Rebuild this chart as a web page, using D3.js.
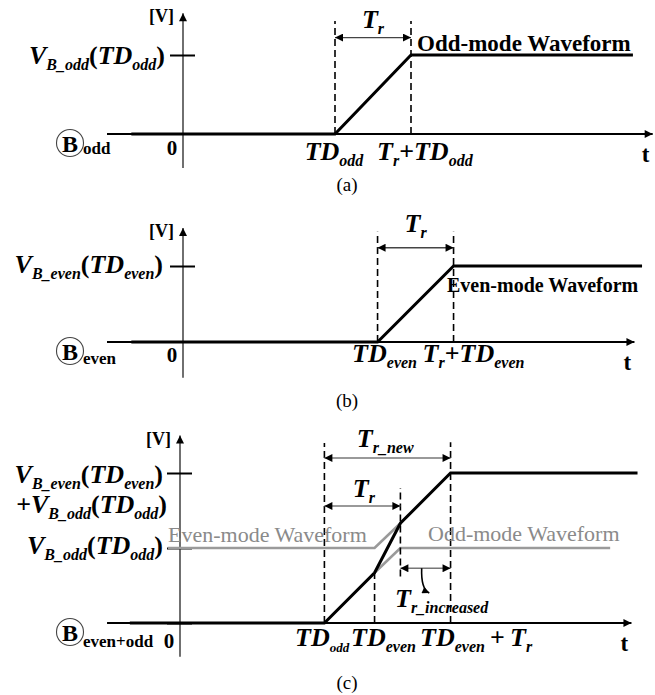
<!DOCTYPE html>
<html><head><meta charset="utf-8">
<script src="https://cdn.jsdelivr.net/npm/d3@7"></script>
<style>
html,body{margin:0;padding:0;background:#fff;}
svg{display:block;font-family:"Liberation Serif","Times New Roman",serif;}
</style></head><body>
<svg id="fig" width="655" height="695"></svg>
<script>
// Time is in arbitrary units, voltage normalised to one mode's step height.

// Panel (a): odd-mode waveform, [t, V]
const oddWave   = [[-3.4, 0], [10, 0], [15, 1], [29.6, 1]];
const oddDashes = [[10, 0, 1.43], [15, 0, 1.43]];          // [t, v0, v1]
const oddSpans  = [[10, 15, 1.22]];                          // [t0, t1, v]

// Panel (b): even-mode waveform
const evenWave   = [[-3.4, 0], [12.8, 0], [17.8, 1], [30.2, 1]];
const evenDashes = [[12.8, 0, 1.45], [17.8, 0, 1.45]];
const evenSpans  = [[12.8, 17.8, 1.24]];

// Panel (c): superposition of both modes
const sumWave     = [[-3.3, 0], [9.5, 0], [12.8, 0.67], [14.5, 1.33], [17.8, 2], [30.1, 2]];
const evenShifted = [[-0.8, 1], [12.8, 1], [14.5, 1.33]];
const oddTail     = [[12.8, 0.67], [14.5, 1], [28.3, 1]];
const sumDashes   = [[9.5, 0, 2.4], [12.8, 0, 0.67], [14.5, 0.62, 1.8], [17.8, 0, 2.41]];
const sumSpans    = [[9.5, 17.8, 2.2], [9.5, 14.5, 1.56], [14.5, 17.8, 0.73]];

// Text pieces: [string, style, optional size]  m = main italic, s = subscript, p = upright
const labelVOdd     = [["V","m"],["B_odd","s"],["(","p"],["TD","m"],["odd","s"],[")","p"]];
const labelVEven    = [["V","m"],["B_even","s"],["(","p"],["TD","m"],["even","s"],[")","p"]];
const labelVOddPlus = [["+","p"],["V","m"],["B_odd","s"],["(","p"],["TD","m"],["odd","s"],[")","p"]];
const labelTDodd    = [["TD","m"],["odd","s"]];
const labelTDoddTight = [["TD","m"],["odd","s",13]];
const labelTDeven   = [["TD","m"],["even","s"]];
const labelTrTDodd  = [["T","m"],["r","s"],["+","p"],["TD","m"],["odd","s"]];
const labelTrTDeven = [["T","m"],["r","s"],["+","p"],["TD","m"],["even","s"]];
const labelTDevenTr = [["TD","m"],["even","s"],["\u2009+\u2009","p"],["T","m"],["r","s"]];
const labelTr       = [["T","m"],["r","s"]];
const labelTrNew    = [["T","m"],["r_new","s"]];
const labelTrInc    = [["T","m"],["r_increased","s"]];

const svg = d3.select("#fig");
const defs = svg.append("defs");
function marker(id, color, w, h) {
  defs.append("marker").attr("id", id)
    .attr("viewBox", "0 0 10 10").attr("refX", 10).attr("refY", 5)
    .attr("markerUnits", "userSpaceOnUse")
    .attr("markerWidth", w).attr("markerHeight", h)
    .attr("orient", "auto-start-reverse")
    .append("path").attr("d", "M0,0L10,5L0,10Z").attr("fill", color);
}
marker("axisHead", "#000", 10, 8);
marker("spanHead", "#000", 10, 8);
marker("curveHead", "#000", 8, 7);

const STY = {
  m: {size: 26, italic: true,  bold: true},
  s: {size: 16, italic: true,  bold: true, sub: true},
  p: {size: 26, italic: false, bold: true}
};
function rich(g, x, y, parts, anchor) {
  const t = g.append("text").attr("x", x).attr("y", y)
    .attr("text-anchor", anchor || "start").style("white-space", "pre");
  let down = false;
  parts.forEach(([s, k, size]) => {
    const st = STY[k];
    const sp = t.append("tspan").text(s)
      .attr("font-size", size || st.size)
      .attr("font-style", st.italic ? "italic" : "normal")
      .attr("font-weight", st.bold ? "bold" : "normal");
    if (st.sub && !down) { sp.attr("dy", 6); down = true; }
    else if (!st.sub && down) { sp.attr("dy", -6); down = false; }
  });
  return t;
}

function panel(o) {
  const g = svg.append("g");
  const pxT = 15.2;
  const x = d3.scaleLinear().domain([0, 30]).range([o.x0, o.x0 + 30 * pxT]);
  const y = d3.scaleLinear().domain([0, 1]).range([o.y0, o.y0 - o.pxV]);
  const line = d3.line().x(d => x(d[0])).y(d => y(d[1]));

  // vertical voltage axis with arrow
  g.append("line").attr("x1", x(0)).attr("x2", x(0))
    .attr("y1", y(o.vAxis[0])).attr("y2", y(o.vAxis[1]))
    .attr("stroke", "#222").attr("stroke-width", 1.3).attr("marker-end", "url(#axisHead)");
  // tick marks crossing the voltage axis
  const ax = g.append("g").attr("transform", `translate(${x(0)},0)`)
    .call(d3.axisLeft(y).tickValues(o.ticks).tickFormat("").tickSizeOuter(0));
  ax.select(".domain").remove();
  ax.selectAll(".tick line").attr("x1", -13).attr("x2", 12)
    .attr("stroke", "#000").attr("stroke-width", 2);

  // time axis with arrow
  g.append("line").attr("x1", x(o.tAxis[0])).attr("x2", x(o.tAxis[1]))
    .attr("y1", y(0)).attr("y2", y(0))
    .attr("stroke", "#000").attr("stroke-width", 2).attr("marker-end", "url(#axisHead)");

  // grey component waveforms
  (o.grey || []).forEach(w => {
    g.append("path").attr("d", line(w)).attr("fill", "none")
      .attr("stroke", "#9a9a9a").attr("stroke-width", 2.6);
  });

  // dashed guides
  o.dashes.forEach(([t, v0, v1]) => {
    g.append("line").attr("x1", x(t)).attr("x2", x(t)).attr("y1", y(v0)).attr("y2", y(v1))
      .attr("stroke", "#000").attr("stroke-width", 1.6).attr("stroke-dasharray", "7,4");
  });

  // main waveform
  g.append("path").attr("d", line(o.wave)).attr("fill", "none")
    .attr("stroke", "#000").attr("stroke-width", 3).attr("stroke-linejoin", "miter");

  // dimension arrows
  o.spans.forEach(([t0, t1, v]) => {
    g.append("line").attr("x1", x(t0)).attr("x2", x(t1)).attr("y1", y(v)).attr("y2", y(v))
      .attr("stroke", o.spanColor || "#444").attr("stroke-width", 1.4)
      .attr("marker-start", "url(#spanHead)").attr("marker-end", "url(#spanHead)");
  });

  // axis captions
  g.append("text").attr("x", x(0) - 9).attr("y", y(o.vAxis[1]) + 9)
    .attr("text-anchor", "end").attr("font-size", 18).attr("font-weight", "bold").text("[V]");
  g.append("text").attr("x", x(0) - 11).attr("y", y(0) + o.zeroDy)
    .attr("text-anchor", "middle").attr("font-size", 21).attr("font-weight", "bold").text("0");
  g.append("text").attr("x", x(o.tAxis[1]) - 7).attr("y", y(0) + 28)
    .attr("text-anchor", "middle").attr("font-size", 23).attr("font-weight", "bold").text("t");

  // node marker: circled B with subscript
  const cy = y(0) + 9;
  g.append("circle").attr("cx", 70).attr("cy", cy).attr("r", 13.5)
    .attr("fill", "none").attr("stroke", "#444").attr("stroke-width", 1.1);
  g.append("text").attr("x", 70).attr("y", cy + 8.5).attr("text-anchor", "middle")
    .attr("font-size", 24).attr("font-weight", "bold").text("B");
  g.append("text").attr("x", 83).attr("y", cy + o.nodeDy).attr("font-size", 17)
    .attr("font-weight", "bold").text(o.node);

  // panel caption
  g.append("text").attr("x", 347).attr("y", o.capY).attr("text-anchor", "middle")
    .attr("font-size", 19).text(o.caption);

  return {g, x, y};
}

// ---- (a) ----
{
  const {g, x, y} = panel({x0: 183, y0: 134, pxV: 79, vAxis: [-0.43, 1.53], ticks: [1],
    tAxis: [-5, 30.9], wave: oddWave, dashes: oddDashes, spans: oddSpans,
    node: "odd", nodeDy: 11, zeroDy: 21, caption: "(a)", capY: 191});
  rich(g, 165, 64, labelVOdd, "end");
  rich(g, x(10) - 1, 160, labelTDodd, "middle");
  rich(g, x(15) - 34, 160, labelTrTDodd, "start");
  rich(g, x(12.5), 28, labelTr, "middle");
  g.append("text").attr("x", x(15.4)).attr("y", 51).attr("font-size", 23)
    .attr("font-weight", "bold").text("Odd-mode Waveform");
}

// ---- (b) ----
{
  const {g, x, y} = panel({x0: 183, y0: 342, pxV: 76, vAxis: [-0.47, 1.5], ticks: [1],
    tAxis: [-5, 29.7], wave: evenWave, dashes: evenDashes, spans: evenSpans,
    node: "even", nodeDy: 13, zeroDy: 20, caption: "(b)", capY: 407});
  rich(g, 163, 273, labelVEven, "end");
  rich(g, x(12.8) + 7, 362, labelTDeven, "middle");
  rich(g, x(17.8) - 31, 362, labelTrTDeven, "start");
  rich(g, x(15.3), 232, labelTr, "middle");
  g.append("text").attr("x", 447).attr("y", 292).attr("font-size", 20)
    .attr("font-weight", "bold").text("Even-mode Waveform");
}

// ---- (c) ----
{
  const {g, x, y} = panel({x0: 180, y0: 623, pxV: 75, vAxis: [-0.45, 2.5], ticks: [0, 1, 2],
    tAxis: [-4.8, 29.7], wave: sumWave, dashes: sumDashes, spans: sumSpans,
    grey: [evenShifted, oddTail], spanColor: "#777",
    node: "even+odd", nodeDy: 15, zeroDy: 25, caption: "(c)", capY: 689});
  rich(g, 163, 483, labelVEven, "end");
  rich(g, 167, 513, labelVOddPlus, "end");
  rich(g, 163, 554, labelVOdd, "end");
  g.append("text").attr("x", 168).attr("y", 542).attr("font-size", 22)
    .attr("fill", "#8a8a8a").text("Even-mode Waveform");
  g.append("text").attr("x", 428).attr("y", 541).attr("font-size", 22)
    .attr("fill", "#8a8a8a").text("Odd-mode Waveform");
  rich(g, 295, 646, labelTDoddTight, "start");
  rich(g, 351, 646, labelTDeven, "start");
  rich(g, 420, 646, labelTDevenTr, "start");
  rich(g, x(13.5), 447, labelTrNew, "middle");
  rich(g, x(12.1), 497, labelTr, "middle");
  rich(g, 395, 607, labelTrInc, "start");
  // pointer from the T_r_increased span down to its label
  const p = d3.path();
  p.moveTo(x(15.9), y(0.73));
  p.quadraticCurveTo(x(15.85), y(0.45), x(16.4), y(0.4));
  g.append("path").attr("d", p.toString()).attr("fill", "none")
    .attr("stroke", "#000").attr("stroke-width", 1.6).attr("marker-end", "url(#curveHead)");
}
</script>
</body></html>
